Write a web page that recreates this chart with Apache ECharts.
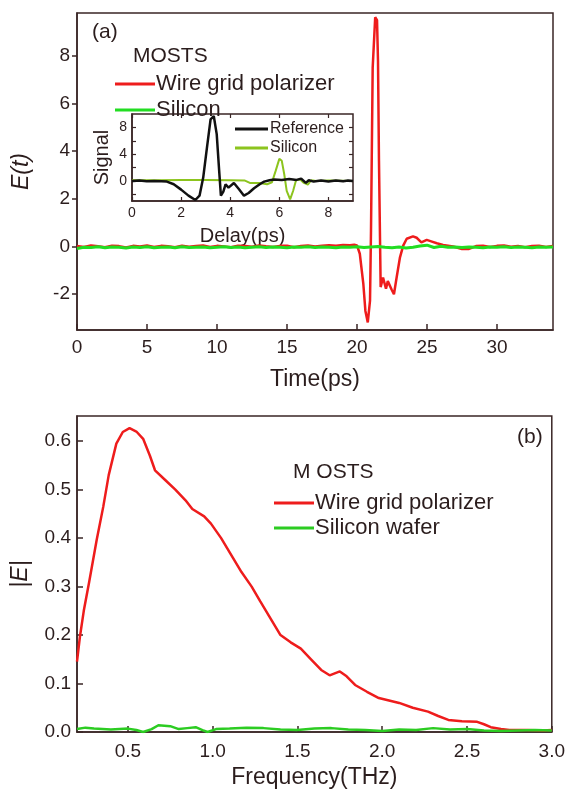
<!DOCTYPE html>
<html>
<head>
<meta charset="utf-8">
<script src="https://cdn.jsdelivr.net/npm/echarts@6.0.0/dist/echarts.min.js"></script>
<style>
  html, body { margin: 0; padding: 0; background: #fff; }
  #chart { width: 568px; height: 790px; }
</style>
</head>
<body>
<div id="chart"></div>
<script>
// (a) E(t) vs time (ps)
const wireGridE = [
  [0, 0.03], [0.5, -0.02], [1, 0.05], [1.5, 0.01], [2, -0.03], [2.5, 0.04], [3, 0.02], [3.5, -0.04],
  [4, 0.03], [4.5, 0.0], [5, 0.05], [5.5, -0.02], [6, 0.03], [6.5, 0.01], [7, -0.03], [7.5, 0.04],
  [8, -0.01], [8.5, 0.02], [9, 0.05], [9.5, -0.02], [10, 0.03], [10.5, 0.0], [11, -0.03], [11.5, 0.04],
  [12, 0.02], [12.5, -0.01], [13, 0.05], [13.5, 0.01], [14, -0.02], [14.5, 0.03], [15, 0.04], [15.5, -0.03],
  [16, 0.02], [16.5, 0.05], [17, 0.0], [17.5, 0.03], [18, 0.06], [18.5, 0.04], [19, 0.07], [19.5, 0.06],
  [19.8, 0.08], [20.0, 0.05], [20.2, -0.3], [20.45, -1.55], [20.6, -2.7], [20.77, -3.18], [20.93, -2.27],
  [21.0, 0.67], [21.12, 7.5], [21.3, 9.62], [21.43, 9.5], [21.5, 7.8], [21.57, 3.6], [21.69, -1.7],
  [21.86, -1.3], [22.07, -1.77], [22.2, -1.45], [22.47, -1.8], [22.64, -2.0], [22.83, -1.3], [23.07, -0.45],
  [23.3, 0.04], [23.55, 0.33], [24.0, 0.43], [24.26, 0.37], [24.6, 0.18], [24.98, 0.28], [25.3, 0.22],
  [25.7, 0.14], [26.15, 0.07], [26.86, 0.0], [27.5, -0.1], [28.0, -0.1], [28.5, 0.02], [29, 0.04],
  [29.5, -0.02], [30, 0.03], [30.5, 0.05], [31, -0.01], [31.5, 0.03], [32, -0.03], [32.5, 0.02],
  [33, 0.04], [33.5, -0.02], [34, 0.03]
];
const siliconE = [
  [0, -0.08], [0.5, -0.03], [1, -0.04], [1.5, -0.01], [2, -0.05], [2.5, -0.02], [3, -0.03], [3.5, -0.06],
  [4, -0.02], [4.5, -0.04], [5, -0.01], [5.5, -0.05], [6, -0.03], [6.5, -0.02], [7, -0.05], [7.5, -0.01],
  [8, -0.04], [8.5, -0.03], [9, -0.02], [9.5, -0.05], [10, -0.03], [10.5, -0.01], [11, -0.04], [11.5, -0.02],
  [12, -0.05], [12.5, -0.03], [13, -0.01], [13.5, -0.04], [14, -0.02], [14.5, -0.03], [15, -0.05], [15.5, -0.02],
  [16, -0.03], [16.5, -0.01], [17, -0.04], [17.5, -0.02], [18, -0.03], [18.5, -0.05], [19, -0.02], [19.5, -0.03],
  [20, -0.01], [20.5, -0.04], [21, -0.02], [21.5, 0.0], [22, -0.03], [22.5, -0.05], [23, -0.02], [23.5, -0.06],
  [24, -0.03], [24.5, 0.02], [25, 0.06], [25.5, -0.04], [26, 0.01], [26.5, -0.03], [27, -0.02], [27.5, -0.04],
  [28, -0.02], [28.5, -0.03], [29, -0.05], [29.5, -0.02], [30, -0.03], [30.5, -0.01], [31, -0.04], [31.5, -0.02],
  [32, -0.03], [32.5, -0.05], [33, -0.02], [33.5, -0.03], [34, -0.02]
];

// inset: signal vs delay (ps)
const referenceSignal = [
  [0, 0], [0.3, 0.05], [0.6, -0.05], [0.9, 0], [1.2, -0.05], [1.42, -0.1], [1.7, -0.5], [2.0, -1.3],
  [2.3, -2.2], [2.58, -2.85], [2.75, -2.2], [2.9, 0.5], [3.06, 5.2], [3.2, 9.2], [3.33, 9.7], [3.45, 7.0],
  [3.55, 1.5], [3.62, -2.2], [3.72, -1.6], [3.81, -0.5], [3.93, -1.0], [4.15, -0.3], [4.35, -1.2],
  [4.56, -2.2], [4.75, -1.8], [4.97, -1.1], [5.2, -0.5], [5.38, -0.1], [5.6, 0.1], [5.79, 0.2], [6.1, 0.15],
  [6.4, 0.3], [6.7, 0.15], [6.89, 0.35], [7.08, -0.3], [7.2, 0.1], [7.4, -0.1], [7.7, 0.05], [8.0, -0.1],
  [8.3, 0.05], [8.6, -0.05], [8.8, 0.05], [9.0, 0]
];
const siliconSignal = [
  [0, 0.1], [1, 0.1], [2, 0.15], [3, 0.12], [4, 0.1], [4.6, 0.05], [4.8, -0.3], [5.2, -0.3], [5.5, -0.5],
  [5.7, -0.2], [5.85, 1.5], [6.0, 3.3], [6.1, 3.0], [6.2, 1.0], [6.3, -1.5], [6.44, -2.75], [6.56, -1.5],
  [6.68, 0.1], [6.85, 0.2], [7.0, -0.3], [7.16, -0.55], [7.3, 0.1], [7.5, 0], [8, 0.05], [9, 0]
];

// (b) |E| vs frequency (THz)
const wireGridSpectrum = [
  [0.2, 0.145], [0.217, 0.196], [0.24, 0.25], [0.272, 0.31], [0.316, 0.396], [0.355, 0.465], [0.387, 0.53],
  [0.432, 0.595], [0.47, 0.619], [0.51, 0.627], [0.55, 0.62], [0.59, 0.605], [0.63, 0.57], [0.66, 0.54],
  [0.72, 0.52], [0.78, 0.5], [0.84, 0.478], [0.88, 0.46], [0.95, 0.445], [0.99, 0.43], [1.05, 0.4],
  [1.11, 0.365], [1.17, 0.33], [1.23, 0.3], [1.28, 0.27], [1.34, 0.235], [1.4, 0.2], [1.46, 0.185],
  [1.52, 0.172], [1.58, 0.15], [1.64, 0.128], [1.69, 0.117], [1.75, 0.125], [1.79, 0.115], [1.84, 0.097],
  [1.91, 0.083], [1.98, 0.07], [2.04, 0.065], [2.1, 0.06], [2.18, 0.05], [2.27, 0.042], [2.33, 0.033],
  [2.39, 0.025], [2.47, 0.022], [2.56, 0.021], [2.6, 0.016], [2.64, 0.01], [2.7, 0.006], [2.75, 0.004],
  [2.85, 0.004], [2.95, 0.003], [3.0, 0.004]
];
const siliconWaferSpectrum = [
  [0.2, 0.006], [0.25, 0.009], [0.3, 0.007], [0.4, 0.005], [0.5, 0.007], [0.55, 0.004], [0.59, 0.0],
  [0.64, 0.006], [0.68, 0.014], [0.75, 0.012], [0.8, 0.006], [0.85, 0.008], [0.9, 0.01], [0.94, 0.004],
  [0.97, 0.0], [1.02, 0.006], [1.1, 0.007], [1.2, 0.009], [1.3, 0.008], [1.4, 0.005], [1.5, 0.004],
  [1.6, 0.007], [1.7, 0.008], [1.8, 0.005], [1.9, 0.004], [2.0, 0.002], [2.1, 0.005], [2.2, 0.004],
  [2.3, 0.008], [2.4, 0.005], [2.5, 0.006], [2.6, 0.003], [2.7, 0.002], [2.8, 0.003], [2.9, 0.004], [3.0, 0.003]
];

// tick labels
const timeTicks = [0, 5, 10, 15, 20, 25, 30];
const eTicks = [-2, 0, 2, 4, 6, 8];
const freqTicks = [0.5, 1.0, 1.5, 2.0, 2.5, 3.0];
const absTicks = [0, 0.1, 0.2, 0.3, 0.4, 0.5, 0.6];
const delayTicks = [0, 2, 4, 6, 8];
const signalLabels = [0, 4, 8];
const signalTicks = [-2, 0, 2, 4, 6, 8];

const FONT = '"Liberation Sans", Arial, sans-serif';
const INK = '#2b1d1d';
const AXIS = '#3a2626';
const RED = '#ee1c1c';
const GREEN = '#22dd22';

const chart = echarts.init(document.getElementById('chart'));

function axisLine(show) {
  return { show: show !== false, onZero: false, lineStyle: { color: AXIS, width: 1.5 } };
}

chart.setOption({
  animation: false,
  backgroundColor: '#fff',
  textStyle: { fontFamily: FONT, color: INK },
  title: [
    { text: '(a)', left: 92, top: 22, padding: 0, textStyle: { fontSize: 21, fontWeight: 'normal', color: INK, fontFamily: FONT } },
    { text: 'MOSTS', left: 133, top: 46, padding: 0, textStyle: { fontSize: 21, fontWeight: 'normal', color: INK, fontFamily: FONT } },
    { text: '(b)', left: 517, top: 427, padding: 0, textStyle: { fontSize: 21, fontWeight: 'normal', color: INK, fontFamily: FONT } },
    { text: 'M OSTS', left: 293, top: 462, padding: 0, textStyle: { fontSize: 21, fontWeight: 'normal', color: INK, fontFamily: FONT } },
  ],
  legend: [
    {
      data: ['Wire grid polarizer', 'Silicon'],
      orient: 'vertical', left: 110, top: 68, itemGap: 4,
      icon: 'rect', itemWidth: 40, itemHeight: 3, selectedMode: false,
      textStyle: { fontSize: 22, color: INK, fontFamily: FONT, padding: [0, 0, 0, -4] },
    },
    {
      data: ['Reference', 'Silicon (inset)'],
      orient: 'vertical', left: 230, top: 116, itemGap: 3,
      icon: 'rect', itemWidth: 33, itemHeight: 3, selectedMode: false,
      formatter: (name) => name.replace(' (inset)', ''),
      textStyle: { fontSize: 16, color: INK, fontFamily: FONT, padding: [0, 0, 0, -3] },
    },
    {
      data: ['Wire grid polarizer ', 'Silicon wafer'],
      orient: 'vertical', left: 269, top: 487, itemGap: 3,
      icon: 'rect', itemWidth: 40, itemHeight: 3, selectedMode: false,
      formatter: (name) => name.trim(),
      textStyle: { fontSize: 22, color: INK, fontFamily: FONT, padding: [0, 0, 0, -4] },
    },
  ],
  grid: [
    { left: 77, top: 13, width: 476, height: 317, show: true, borderColor: AXIS, borderWidth: 1.5 },
    { left: 77, top: 416, width: 476, height: 316, show: true, borderColor: AXIS, borderWidth: 1.5 },
    { left: 132, top: 114, width: 221, height: 87, show: true, borderColor: AXIS, borderWidth: 1.5, backgroundColor: '#fff' },
  ],
  xAxis: [
    {
      gridIndex: 0, type: 'value', min: 0, max: 34,
      axisLine: axisLine(),
      axisTick: { inside: true, length: 6, customValues: timeTicks, lineStyle: { color: AXIS, width: 1.5 } },
      axisLabel: { customValues: timeTicks, fontSize: 19, margin: 8, color: INK },
      splitLine: { show: false },
      name: 'Time(ps)', nameLocation: 'middle', nameGap: 38,
      nameTextStyle: { fontSize: 23, color: INK },
    },
    {
      gridIndex: 1, type: 'value', min: 0.2, max: 3.0,
      axisLine: axisLine(),
      axisTick: { inside: true, length: 6, customValues: freqTicks, lineStyle: { color: AXIS, width: 1.5 } },
      axisLabel: { customValues: freqTicks, fontSize: 19, margin: 10, color: INK, formatter: (v) => v.toFixed(1) },
      splitLine: { show: false },
      name: 'Frequency(THz)', nameLocation: 'middle', nameGap: 34,
      nameTextStyle: { fontSize: 23, color: INK },
    },
    {
      gridIndex: 2, type: 'value', min: 0, max: 9,
      axisLine: axisLine(),
      axisTick: { inside: true, length: 4, customValues: delayTicks, lineStyle: { color: AXIS, width: 1.2 } },
      axisLabel: { customValues: delayTicks, fontSize: 14, margin: 5, color: INK },
      splitLine: { show: false },
      name: 'Delay(ps)', nameLocation: 'middle', nameGap: 25,
      nameTextStyle: { fontSize: 20, color: INK },
    },
    {
      gridIndex: 2, type: 'value', min: 0, max: 9, position: 'top',
      axisLine: axisLine(false),
      axisTick: { inside: true, length: 4, customValues: delayTicks, lineStyle: { color: AXIS, width: 1.2 } },
      axisLabel: { show: false },
      splitLine: { show: false },
    },
  ],
  yAxis: [
    {
      gridIndex: 0, type: 'value', min: -3.5, max: 9.8,
      axisLine: axisLine(),
      axisTick: { inside: false, length: 5, customValues: eTicks, lineStyle: { color: AXIS, width: 1.5 } },
      axisLabel: { customValues: eTicks, fontSize: 19, margin: 7, color: INK },
      splitLine: { show: false },
      name: 'E(t)', nameLocation: 'middle', nameGap: 44,
      nameTextStyle: { fontSize: 23, fontStyle: 'italic', color: INK },
    },
    {
      gridIndex: 1, type: 'value', min: 0, max: 0.652,
      axisLine: axisLine(),
      axisTick: { inside: true, length: 6, customValues: absTicks, lineStyle: { color: AXIS, width: 1.5 } },
      axisLabel: { customValues: absTicks, fontSize: 19, margin: 6, color: INK, formatter: (v) => v.toFixed(1) },
      splitLine: { show: false },
      name: '|E|', nameLocation: 'middle', nameGap: 45,
      nameTextStyle: { fontSize: 23, fontStyle: 'italic', color: INK },
    },
    {
      gridIndex: 2, type: 'value', min: -3, max: 10,
      axisLine: axisLine(),
      axisTick: { inside: true, length: 4, customValues: signalTicks, lineStyle: { color: AXIS, width: 1.2 } },
      axisLabel: { customValues: signalLabels, fontSize: 14, margin: 5, color: INK },
      splitLine: { show: false },
      name: 'Signal', nameLocation: 'middle', nameGap: 20,
      nameTextStyle: { fontSize: 20, color: INK },
    },
    {
      gridIndex: 2, type: 'value', min: -3, max: 10, position: 'right',
      axisLine: axisLine(false),
      axisTick: { inside: true, length: 4, customValues: signalTicks, lineStyle: { color: AXIS, width: 1.2 } },
      axisLabel: { show: false },
      splitLine: { show: false },
    },
  ],
  series: [
    {
      name: 'Wire grid polarizer', type: 'line', xAxisIndex: 0, yAxisIndex: 0,
      data: wireGridE, showSymbol: false, color: RED, lineStyle: { width: 2.5 },
    },
    {
      name: 'Silicon', type: 'line', xAxisIndex: 0, yAxisIndex: 0,
      data: siliconE, showSymbol: false, color: GREEN, lineStyle: { width: 3 },
    },
    {
      name: 'Silicon (inset)', type: 'line', xAxisIndex: 2, yAxisIndex: 2,
      data: siliconSignal, showSymbol: false, color: '#8cc41e', lineStyle: { width: 2 },
    },
    {
      name: 'Reference', type: 'line', xAxisIndex: 2, yAxisIndex: 2,
      data: referenceSignal, showSymbol: false, color: '#111', lineStyle: { width: 2.5 },
    },
    {
      name: 'Wire grid polarizer ', type: 'line', xAxisIndex: 1, yAxisIndex: 1,
      data: wireGridSpectrum, showSymbol: false, color: RED, lineStyle: { width: 2.5 },
    },
    {
      name: 'Silicon wafer', type: 'line', xAxisIndex: 1, yAxisIndex: 1,
      data: siliconWaferSpectrum, showSymbol: false, color: '#2ccc22', lineStyle: { width: 2.5 },
    },
  ],
});
</script>
</body>
</html>
